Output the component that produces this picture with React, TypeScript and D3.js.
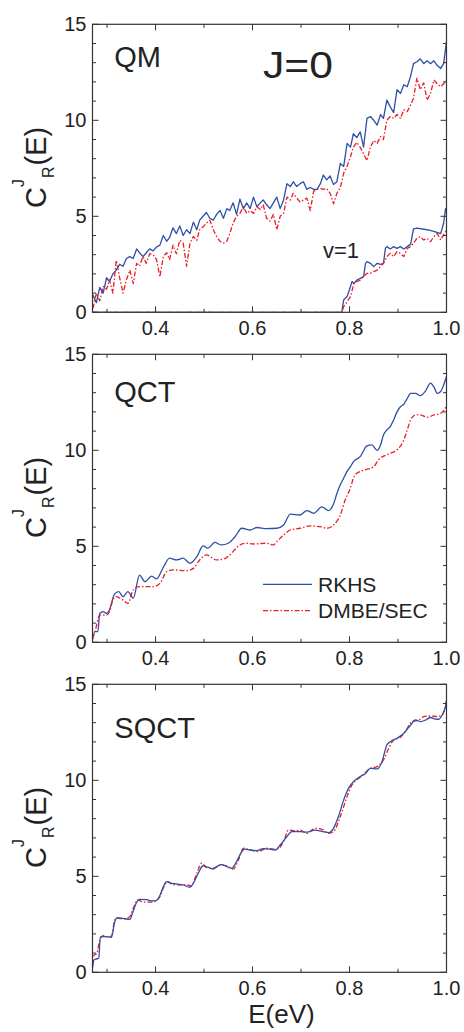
import React from "react";
import * as d3 from "d3";

// Shared energy grid for the QM panel (eV)
const QM_E = [0.271,0.278,0.285,0.292,0.299,0.305,0.312,0.319,0.326,0.333,0.340,0.347,0.354,0.361,0.367,0.374,0.381,0.388,0.395,0.402,0.409,0.416,0.423,0.429,0.436,0.443,0.450,0.457,0.464,0.471,0.478,0.485,0.491,0.498,0.505,0.512,0.519,0.526,0.533,0.540,0.547,0.553,0.560,0.567,0.574,0.581,0.588,0.595,0.602,0.609,0.616,0.622,0.629,0.636,0.643,0.650,0.657,0.664,0.671,0.678,0.684,0.691,0.698,0.705,0.712,0.719,0.726,0.733,0.740,0.746,0.753,0.760,0.767,0.774,0.781,0.788,0.795,0.802,0.808,0.815,0.822,0.829,0.836,0.843,0.850,0.857,0.864,0.870,0.877,0.884,0.891,0.898,0.905,0.912,0.919,0.926,0.932,0.939,0.946,0.953,0.960,0.967,0.974,0.981,0.988,0.994,1.000];

const QM_RKHS = [0.9,0.5,1.3,1.0,1.8,1.6,2.0,2.2,2.5,2.4,2.8,2.9,2.8,3.3,3.1,2.9,3.1,3.3,3.2,3.4,3.5,4.0,3.7,3.9,4.4,4.1,4.5,4.0,4.3,4.1,4.7,4.3,4.8,5.0,5.2,4.9,4.8,5.1,5.3,4.9,5.4,5.3,5.7,5.1,5.9,5.4,5.7,5.4,6.0,5.5,5.7,5.85,5.6,5.4,5.7,6.0,5.4,5.85,6.7,6.55,6.8,6.55,6.7,6.8,6.4,6.5,6.4,6.4,6.7,7.15,6.9,7.1,6.65,6.8,7.75,7.6,8.8,8.6,9.3,9.1,9.4,8.6,10.1,10.2,10.0,9.75,10.3,10.1,11.05,10.7,10.4,11.6,11.4,11.85,11.75,12.3,12.95,13.05,13.2,12.95,13.1,12.95,13.1,12.85,12.7,12.95,14.1];

const QM_DMBE = [0.2,1.0,0.6,1.35,1.2,1.7,1.0,2.7,1.8,1.0,1.7,2.2,1.5,2.55,2.4,2.9,2.55,3.05,3.0,2.75,1.85,2.9,3.1,2.75,3.5,3.05,3.75,3.6,2.4,3.6,3.95,3.75,4.3,4.45,4.65,4.8,4.3,3.95,3.7,3.6,3.7,4.1,4.65,5.0,5.15,5.5,5.15,5.3,5.15,5.5,5.35,5.6,4.9,4.75,5.1,4.3,5.0,5.15,6.0,5.85,6.2,5.95,5.75,5.85,5.95,5.3,6.3,6.4,6.45,6.4,6.45,6.2,5.65,6.2,6.5,7.25,7.6,8.1,8.6,8.85,8.6,8.25,7.9,8.6,8.95,8.8,9.15,9.0,10.0,10.2,10.1,10.3,10.1,10.55,10.45,10.8,11.15,12.2,11.6,11.95,11.05,11.4,12.1,11.9,11.75,11.9,12.1];

// v=1 channel (QM)
const V1_RKHS_E = [0.27,0.784,0.788,0.795,0.802,0.805,0.809,0.815,0.822,0.829,0.833,0.836,0.843,0.850,0.857,0.864,0.870,0.874,0.877,0.884,0.891,0.898,0.905,0.912,0.919,0.926,0.932,0.939,0.960,0.974,0.988,0.994,0.998,1.0];
const V1_RKHS = [0,0,0.65,0.82,1.34,1.6,1.5,1.68,1.77,1.86,2.55,2.64,2.55,2.38,2.55,2.5,2.55,3.33,3.42,3.3,3.42,3.33,3.42,3.3,3.42,3.55,4.35,4.38,4.3,4.22,4.1,4.64,5.4,5.2];
const V1_DMBE_E = [0.27,0.784,0.788,0.795,0.802,0.809,0.815,0.822,0.829,0.836,0.843,0.850,0.857,0.864,0.870,0.877,0.884,0.891,0.898,0.905,0.912,0.919,0.926,0.932,0.939,0.946,0.953,0.960,0.967,0.974,0.981,0.988,0.994,1.0];
const V1_DMBE = [0,0,0.3,0.55,0.82,1.5,1.6,1.68,1.86,2.03,2.03,2.12,2.2,2.38,2.55,2.9,3.07,2.9,3.16,3.07,2.9,3.33,3.42,3.6,3.85,3.94,3.77,3.85,3.68,3.94,4.11,3.77,4.03,4.29];

// QCT
const QCT_RKHS_E = [0.270,0.275,0.281,0.285,0.292,0.299,0.305,0.315,0.324,0.333,0.343,0.354,0.367,0.378,0.392,0.402,0.416,0.429,0.443,0.457,0.471,0.485,0.498,0.508,0.522,0.536,0.550,0.564,0.578,0.595,0.609,0.629,0.650,0.664,0.678,0.698,0.712,0.726,0.743,0.757,0.767,0.774,0.781,0.788,0.795,0.802,0.808,0.822,0.836,0.846,0.857,0.864,0.870,0.877,0.884,0.891,0.898,0.905,0.912,0.919,0.926,0.936,0.946,0.957,0.967,0.974,0.981,0.988,0.994,1.000];
const QCT_RKHS = [0.12,0.56,0.56,1.51,1.6,1.5,1.68,2.5,2.64,2.38,2.64,2.3,3.5,3.16,3.45,3.3,3.9,4.38,4.29,4.38,4.11,4.45,5.02,4.9,5.2,5.07,5.16,5.5,5.94,5.85,5.98,5.92,5.94,6.11,6.68,6.63,6.86,6.72,7.05,6.86,7.2,7.75,8.2,8.55,8.9,9.15,9.4,9.67,10.23,10.28,10.0,10.28,10.8,11.06,11.23,11.58,12.0,12.27,12.4,12.7,12.97,12.97,12.85,13.1,13.5,13.3,12.97,13.06,13.4,13.84];
const QCT_DMBE_E = [0.270,0.275,0.285,0.299,0.305,0.312,0.319,0.333,0.343,0.354,0.367,0.395,0.409,0.423,0.436,0.464,0.478,0.491,0.505,0.526,0.540,0.553,0.574,0.588,0.602,0.629,0.643,0.650,0.664,0.678,0.698,0.719,0.740,0.753,0.767,0.781,0.791,0.802,0.808,0.815,0.832,0.850,0.860,0.884,0.898,0.912,0.919,0.926,0.936,0.946,0.960,0.974,0.988,1.000];
const QCT_DMBE = [0.2,0.55,1.42,1.42,1.6,2.2,2.38,2.2,2.03,2.73,2.9,2.9,3.07,3.68,3.77,3.73,3.85,4.29,4.55,4.29,4.33,4.55,5.07,5.16,5.12,5.16,5.07,5.24,5.59,5.85,5.94,6.06,6.02,5.94,6.11,6.63,7.41,8.04,8.55,8.8,8.98,9.15,9.5,9.84,10.02,10.54,11.06,11.58,11.84,11.84,11.72,11.84,11.93,12.3];

// SQCT
const SQCT_RKHS_E = [0.270,0.273,0.277,0.283,0.286,0.295,0.309,0.316,0.321,0.333,0.347,0.354,0.361,0.367,0.381,0.395,0.402,0.409,0.416,0.423,0.429,0.443,0.457,0.471,0.478,0.488,0.498,0.509,0.519,0.529,0.536,0.547,0.557,0.567,0.578,0.584,0.595,0.609,0.622,0.636,0.647,0.657,0.671,0.681,0.698,0.712,0.729,0.743,0.757,0.767,0.777,0.788,0.798,0.808,0.822,0.833,0.843,0.857,0.867,0.877,0.884,0.898,0.912,0.926,0.936,0.946,0.957,0.967,0.977,0.984,0.991,0.998,1.000];
const SQCT_RKHS = [0.21,0.64,0.69,0.73,1.85,1.86,1.82,2.64,2.85,2.81,2.76,3.2,3.65,3.8,3.78,3.72,3.75,4.0,4.46,4.72,4.66,4.6,4.55,4.43,4.64,5.16,5.55,5.46,5.38,5.54,5.61,5.5,5.42,5.76,6.29,6.42,6.37,6.34,6.44,6.41,6.37,6.63,7.07,7.33,7.33,7.3,7.41,7.34,7.27,7.5,8.1,8.98,9.58,9.93,10.19,10.36,10.62,10.59,10.97,11.84,12.01,12.19,12.45,12.88,13.14,13.06,13.14,13.27,13.19,13.18,13.4,13.84,14.18];
const SQCT_DMBE_E = [0.270,0.274,0.279,0.285,0.292,0.299,0.309,0.316,0.323,0.336,0.347,0.354,0.364,0.374,0.388,0.402,0.409,0.419,0.426,0.436,0.450,0.464,0.474,0.485,0.495,0.505,0.519,0.533,0.547,0.560,0.571,0.581,0.595,0.612,0.629,0.643,0.653,0.664,0.674,0.688,0.698,0.712,0.729,0.743,0.757,0.767,0.781,0.795,0.805,0.815,0.829,0.843,0.857,0.870,0.881,0.891,0.905,0.915,0.929,0.943,0.953,0.967,0.981,0.991,1.000];
const SQCT_DMBE = [0.82,0.9,0.99,1.68,1.91,1.86,1.89,2.73,2.81,2.78,2.9,3.33,3.77,3.65,3.65,3.73,3.94,4.55,4.72,4.55,4.55,4.55,4.5,5.16,5.68,5.46,5.42,5.59,5.54,5.37,5.85,6.46,6.37,6.29,6.46,6.41,6.44,6.81,7.41,7.38,7.41,7.24,7.5,7.45,7.24,7.33,8.11,9.15,9.76,10.02,10.31,10.62,10.71,11.06,11.67,12.1,12.24,12.54,13.06,13.14,13.32,13.35,13.32,13.4,14.1];

const X_MAJOR = [0.4, 0.6, 0.8, 1.0];
const X_MINOR = [0.3, 0.5, 0.7, 0.9];
const Y_MAJOR = [0, 5, 10, 15];
const Y_MINOR = [1, 2, 3, 4, 6, 7, 8, 9, 11, 12, 13, 14];
const SERIES_NAMES = ["RKHS", "DMBE/SEC"];
const PANEL_NAMES = ["QM", "QCT", "SQCT"];

const BLUE = "#2f4fa6";
const RED = "#ec1c24";
const AXIS = "#333";
const FONT = "Liberation Sans, Arial, Helvetica, sans-serif";
const DASH = "5,2,1.5,2";

type Line = { e: number[]; c: number[]; color: string; dash?: string; smooth?: boolean };

const L = 92.5, R = 446.5, PH = 288;
const TOPS = [24.3, 354.3, 684.3];

function Panel({ top, name, nameY, lines, children }: { top: number; name: string; nameY: number; lines: Line[]; children?: React.ReactNode }) {
  const x = d3.scaleLinear().domain([0.27, 1.0]).range([L, R]);
  const y = d3.scaleLinear().domain([0, 15]).range([top + PH, top]);
  const bottom = top + PH;
  const clipId = "clip" + Math.round(top);
  return (
    <g>
      <defs>
        <clipPath id={clipId}>
          <rect x={L} y={top - 2} width={R - L} height={PH + 2} />
        </clipPath>
      </defs>
      <g clipPath={`url(#${clipId})`}>
        {lines.map((ln, i) => {
          const gen = d3
            .line<number>()
            .x((_, j) => x(ln.e[j]))
            .y((v) => y(v))
            .curve(ln.smooth ? d3.curveMonotoneX : d3.curveLinear);
          return (
            <path key={i} d={gen(ln.c) || ""} fill="none" stroke={ln.color} strokeWidth={1.3}
              strokeDasharray={ln.dash} strokeLinejoin="round" />
          );
        })}
      </g>
      {/* frame */}
      <rect x={L} y={top} width={R - L} height={PH} fill="none" stroke={AXIS} strokeWidth={1.2} />
      {/* x ticks */}
      {X_MAJOR.map((t) => (
        <g key={"xm" + t}>
          <line x1={x(t)} x2={x(t)} y1={bottom} y2={bottom - 6} stroke={AXIS} strokeWidth={1} />
          <line x1={x(t)} x2={x(t)} y1={top} y2={top + 6} stroke={AXIS} strokeWidth={1} />
          <text x={x(t)} y={bottom + 23} textAnchor="middle" fontSize={20} fontFamily={FONT} fill="#222">
            {t.toFixed(1)}
          </text>
        </g>
      ))}
      {X_MINOR.map((t) => (
        <g key={"xn" + t}>
          <line x1={x(t)} x2={x(t)} y1={bottom} y2={bottom - 3.5} stroke={AXIS} strokeWidth={1} />
          <line x1={x(t)} x2={x(t)} y1={top} y2={top + 3.5} stroke={AXIS} strokeWidth={1} />
        </g>
      ))}
      {Y_MAJOR.map((t) => (
        <g key={"ym" + t}>
          <line x1={L} x2={L + 6} y1={y(t)} y2={y(t)} stroke={AXIS} strokeWidth={1} />
          <line x1={R} x2={R - 6} y1={y(t)} y2={y(t)} stroke={AXIS} strokeWidth={1} />
          <text x={L - 6} y={y(t) + 7} textAnchor="end" fontSize={20} fontFamily={FONT} fill="#222">
            {t}
          </text>
        </g>
      ))}
      {Y_MINOR.map((t) => (
        <g key={"yn" + t}>
          <line x1={L} x2={L + 3.5} y1={y(t)} y2={y(t)} stroke={AXIS} strokeWidth={1} />
          <line x1={R} x2={R - 3.5} y1={y(t)} y2={y(t)} stroke={AXIS} strokeWidth={1} />
        </g>
      ))}
      {/* y label */}
      <g transform={`translate(46, ${top + PH / 2 - 1}) rotate(-90)`}>
        <text x={0} y={0} textAnchor="middle" fontSize={29} fontFamily={FONT} fill="#222">
          C
          <tspan dy={-22} fontSize={16}>J</tspan>
          <tspan dx={1} dy={30} fontSize={16}>R</tspan>
          <tspan dx={1} dy={-8} fontSize={29}>(E)</tspan>
        </text>
      </g>
      <text x={114.3} y={nameY} fontSize={29} fontFamily={FONT} fill="#222">{name}</text>
      {children}
    </g>
  );
}

export default function App() {
  const x = d3.scaleLinear().domain([0.27, 1.0]).range([L, R]);
  const p1: Line[] = [
    { e: QM_E, c: QM_RKHS, color: BLUE },
    { e: QM_E, c: QM_DMBE, color: RED, dash: DASH },
    { e: V1_RKHS_E, c: V1_RKHS, color: BLUE },
    { e: V1_DMBE_E, c: V1_DMBE, color: RED, dash: DASH },
  ];
  const p2: Line[] = [
    { e: QCT_RKHS_E, c: QCT_RKHS, color: BLUE, smooth: true },
    { e: QCT_DMBE_E, c: QCT_DMBE, color: RED, dash: DASH, smooth: true },
  ];
  const p3: Line[] = [
    { e: SQCT_DMBE_E, c: SQCT_DMBE, color: RED, dash: DASH, smooth: true },
    { e: SQCT_RKHS_E, c: SQCT_RKHS, color: BLUE, smooth: true },
  ];
  return (
    <div style={{ position: "absolute", left: 0, top: 0 }}>
      <svg width={464} height={1032} style={{ display: "block", background: "#fff" }}>
        <Panel top={TOPS[0]} name={PANEL_NAMES[0]} nameY={66.7} lines={p1}>
          <text x={263} y={78.3} fontSize={37} fontFamily={FONT} fill="#222" textLength={70} lengthAdjust="spacingAndGlyphs">J=0</text>
          <text x={323} y={258.3} fontSize={22} fontFamily={FONT} fill="#222">v=1</text>
        </Panel>
        <Panel top={TOPS[1]} name={PANEL_NAMES[1]} nameY={401.7} lines={p2}>
          <line x1={263} x2={312} y1={584.3} y2={584.3} stroke={BLUE} strokeWidth={1.3} />
          <line x1={263} x2={312} y1={610.7} y2={610.7} stroke={RED} strokeWidth={1.3} strokeDasharray={DASH} />
          <text x={318} y={591.7} fontSize={21} fontFamily={FONT} fill="#222">{SERIES_NAMES[0]}</text>
          <text x={318} y={618} fontSize={21} fontFamily={FONT} fill="#222">{SERIES_NAMES[1]}</text>
        </Panel>
        <Panel top={TOPS[2]} name={PANEL_NAMES[2]} nameY={737.7} lines={p3} />
        <text x={(x(0.27) + x(1.0)) / 2 + 12} y={1023} textAnchor="middle" fontSize={26} fontFamily={FONT} fill="#222">
          E(eV)
        </text>
      </svg>
    </div>
  );
}
